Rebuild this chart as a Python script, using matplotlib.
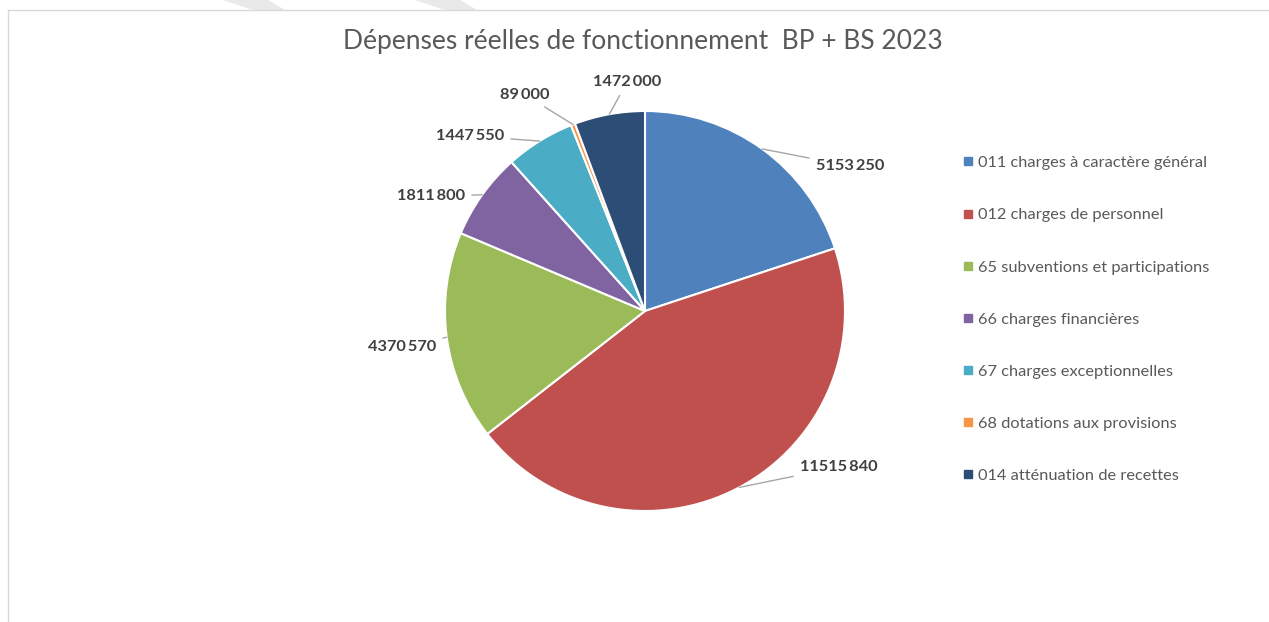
import numpy as np
import matplotlib.pyplot as plt
from matplotlib.lines import Line2D
from matplotlib.patches import Polygon

plt.rcParams['font.family'] = ['Lato', 'DejaVu Sans']

# Data
categories = [
    "011 charges à caractère général",
    "012 charges de personnel",
    "65 subventions et participations",
    "66 charges financières",
    "67 charges exceptionnelles",
    "68 dotations aux provisions",
    "014 atténuation de recettes",
]
values = [5153250, 11515840, 4370570, 1811800, 1447550, 89000, 1472000]
value_labels = ["5153\u2009250", "11515\u2009840", "4370\u2009570", "1811\u2009800",
                "1447\u2009550", "89\u2009000", "1472\u2009000"]
colors = ["#4F81BD", "#C0504D", "#9BBB59", "#8064A2", "#4BACC6", "#F79646", "#2C4D75"]

W, H = 1269, 622
fig = plt.figure(figsize=(W / 100, H / 100), dpi=100)
ax = fig.add_axes([0, 0, 1, 1])

cx, cy, R = 645, H - 311, 200
wedges, _ = ax.pie(values, colors=colors, startangle=90, counterclock=False,
                   center=(cx, cy), radius=R,
                   wedgeprops=dict(edgecolor="white", linewidth=1.5))
ax.set_xlim(0, W)
ax.set_ylim(0, H)
ax.set_aspect("equal")
ax.axis("off")

# chart area border
ax.plot([8, 8, W], [0, H - 10, H - 10], color="#D9D9D9", lw=1, clip_on=False)
# faint watermark stripes at top
for x0 in (223, 415):
    ax.add_patch(Polygon([[x0, H], [x0 + 45, H], [x0 + 62, H - 10], [x0 + 30, H - 10]],
                         closed=True, facecolor="#E9E9E9", edgecolor="none"))

# label text anchors (image pixels): x, y, ha
label_pos = [
    (816, 166, "left"),
    (800, 467, "left"),
    (436, 347, "right"),
    (465, 196, "right"),
    (504, 136, "right"),
    (550, 95, "right"),
    (627, 82, "center"),
]

total = sum(values)
start = 90.0
for v, lab, (tx, ty, ha) in zip(values, value_labels, label_pos):
    span = 360.0 * v / total
    mid = np.deg2rad(start - span / 2)
    start -= span
    ex, ey = cx + R * np.cos(mid), cy + R * np.sin(mid)
    ax.annotate(lab, xy=(ex, ey), xytext=(tx, H - ty), ha=ha, va="center",
                fontsize=11.8, fontweight="bold", color="#404040",
                arrowprops=dict(arrowstyle="-", color="#A6A6A6", lw=1,
                                shrinkA=3, shrinkB=0))

ax.text(643, H - 42, "Dépenses réelles de fonctionnement  BP + BS 2023",
        ha="center", va="center", fontsize=19, color="#595959")

handles = [Line2D([0], [0], marker="s", linestyle="none", markersize=6,
                  markerfacecolor=c, markeredgecolor=c) for c in colors]
leg = fig.legend(handles, categories, loc="upper left", bbox_to_anchor=(948 / W, 1 - 141 / H),
                 frameon=False, fontsize=11.8, labelcolor="#595959",
                 handlelength=0.6, handletextpad=0.3, labelspacing=2.3)

fig.savefig("out.png", dpi=100)
